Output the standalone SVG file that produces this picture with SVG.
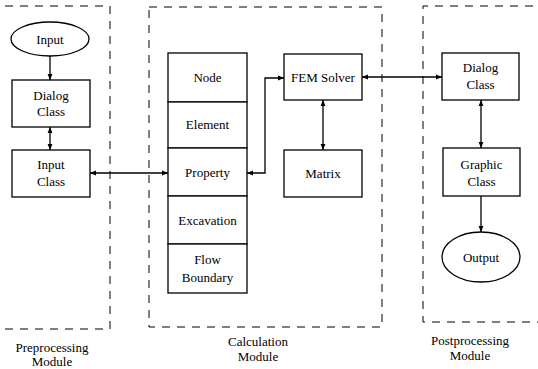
<svg xmlns="http://www.w3.org/2000/svg" width="538" height="369" viewBox="0 0 538 369">
<style>
.box{fill:#fff;stroke:#000;stroke-width:1.3}
.mod{fill:none;stroke:#000;stroke-width:1;stroke-dasharray:8 7}
.t{font-family:'Liberation Serif','DejaVu Serif',serif;font-size:13px;fill:#000;text-anchor:middle}
.c{fill:none;stroke:#000;stroke-width:1.3}
</style>
<defs>
<marker id="ah" viewBox="0 0 10 10" refX="10" refY="5" markerWidth="6" markerHeight="6" markerUnits="userSpaceOnUse" orient="auto-start-reverse">
<path d="M0,1 L10,5 L0,9 Z" fill="#000"/>
</marker>
</defs>
<g id="modules" font-family="Liberation Serif, serif">
<path class="mod" d="M-10,6 H110 V329 H-10"/>
<rect class="mod" x="149" y="7" width="233" height="320"/>
<path class="mod" d="M548,6 H423 V322 H548"/>
<text class="t" x="52" y="352">Preprocessing</text>
<text class="t" x="52" y="366">Module</text>
<text class="t" x="258" y="346">Calculation</text>
<text class="t" x="258" y="361">Module</text>
<text class="t" x="470" y="345">Postprocessing</text>
<text class="t" x="470" y="360">Module</text>
</g>
<g id="input"><ellipse class="box" cx="50" cy="39" rx="39" ry="17"/><text class="t" x="50" y="44">Input</text></g>
<g id="dialog-pre"><rect class="box" x="12" y="80" width="78" height="47"/><text class="t" x="51" y="100">Dialog</text><text class="t" x="51" y="116">Class</text></g>
<g id="input-class"><rect class="box" x="12" y="150" width="78" height="47"/><text class="t" x="51" y="169">Input</text><text class="t" x="51" y="186">Class</text></g>
<g id="node"><rect class="box" x="168" y="53" width="79" height="49"/><text class="t" x="207.5" y="82">Node</text></g>
<g id="element"><rect class="box" x="168" y="102" width="79" height="46"/><text class="t" x="207.5" y="129">Element</text></g>
<g id="property"><rect class="box" x="168" y="148" width="79" height="48"/><text class="t" x="207.5" y="177">Property</text></g>
<g id="excavation"><rect class="box" x="168" y="196" width="79" height="48"/><text class="t" x="207.5" y="225">Excavation</text></g>
<g id="flow-boundary"><rect class="box" x="168" y="244" width="79" height="49"/><text class="t" x="207.5" y="264">Flow</text><text class="t" x="207.5" y="282">Boundary</text></g>
<g id="fem-solver"><rect class="box" x="284" y="54" width="78" height="46"/><text class="t" x="323" y="82">FEM Solver</text></g>
<g id="matrix"><rect class="box" x="284" y="150" width="78" height="47"/><text class="t" x="323" y="178">Matrix</text></g>
<g id="dialog-post"><rect class="box" x="442" y="53" width="77" height="47"/><text class="t" x="480.5" y="72">Dialog</text><text class="t" x="480.5" y="89">Class</text></g>
<g id="graphic-class"><rect class="box" x="443" y="148" width="77" height="48"/><text class="t" x="481.5" y="169">Graphic</text><text class="t" x="481.5" y="186">Class</text></g>
<g id="output"><ellipse class="box" cx="481" cy="257" rx="39" ry="25"/><text class="t" x="481" y="262">Output</text></g>
<g id="connectors">
<path class="c" d="M50,56 V80" marker-end="url(#ah)"/>
<path class="c" d="M50,127 V150" marker-start="url(#ah)" marker-end="url(#ah)"/>
<path class="c" d="M90,173 H168" marker-start="url(#ah)" marker-end="url(#ah)"/>
<path class="c" d="M247,173 H265 V78 H284" marker-start="url(#ah)" marker-end="url(#ah)"/>
<path class="c" d="M323,100 V150" marker-start="url(#ah)" marker-end="url(#ah)"/>
<path class="c" d="M362,77 H442" marker-start="url(#ah)" marker-end="url(#ah)"/>
<path class="c" d="M481,100 V148" marker-start="url(#ah)" marker-end="url(#ah)"/>
<path class="c" d="M481,196 V232" marker-end="url(#ah)"/>
</g>
</svg>
